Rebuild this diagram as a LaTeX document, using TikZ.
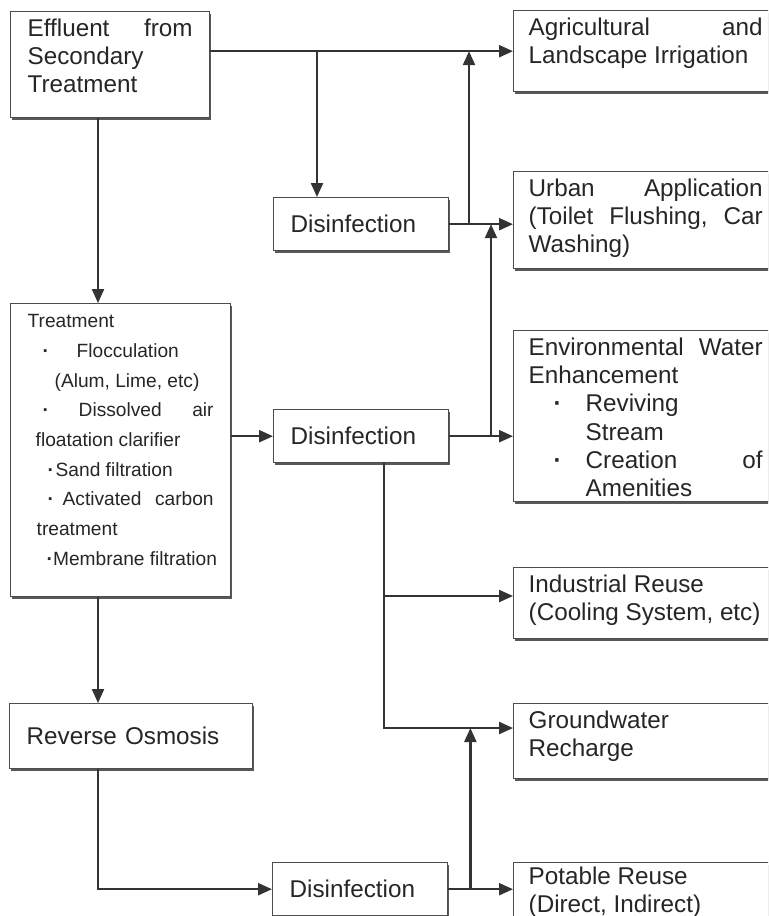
\documentclass[tikz,border=0pt]{standalone}
\usepackage{fontspec}
\setmainfont{Liberation Sans}
\usepackage{tikz}
\usetikzlibrary{positioning, shadows, calc, arrows.meta}
\usepackage{xcolor}

\tikzset{
  box/.style={draw=black!70, line width=0.8pt, fill=white, anchor=north west,
    drop shadow={shadow xshift=0.03cm, shadow yshift=-0.05cm, fill=black!65, opacity=1},
    inner xsep=0.34cm, inner ysep=0.106cm, text=black!85,
    font=\fontsize{13.8}{16}\selectfont},
  rbox/.style={box, inner xsep=0.3cm},
  onebox/.style={box, inner ysep=0pt, align=left},
  disbox/.style={onebox, text width=2.82cm, minimum height=1.06cm},
  line/.style={draw=black!80, line width=1.3pt},
  arr/.style={line, -{Stealth[length=0.28cm, width=0.24cm, inset=0pt]}},
}
\newcommand{\dotb}{{\bfseries ·}}

\begin{document}
\begin{tikzpicture}[x=0.02cm, y=-0.02cm]
          % 畫布
          \fill[white] (0,0) rectangle (768,916);
          \useasboundingbox (0,0) rectangle (768,916);
          \clip (0,0) rectangle (768,916);

          % 子圖形 left (類型: box)
          \begin{scope}[shift={(0.0, 0.0)}]
            % 方框
            \node[box] (src) at (10,11)
              {\parbox[c][1.904cm][t]{3.3cm}{\strut Effluent\hfill from\\Secondary\\Treatment}};
            \node[box, inner ysep=1.8pt, font=\fontsize{10.9}{16.9}\selectfont] (treat) at (10,303)
              {\parbox[c][5.732cm][t]{3.72cm}{\strut Treatment\\
                \hspace*{0.3cm}\makebox[0.68cm][l]{\dotb}Flocculation\\
                \hspace*{0.54cm}(Alum, Lime, etc)\\
                \hspace*{0.3cm}\makebox[0.72cm][l]{\dotb}Dissolved\hfill air\\
                \hspace*{0.16cm}floatation clarifier\\
                \hspace*{0.4cm}\makebox[0.16cm][l]{\dotb}Sand filtration\\
                \hspace*{0.4cm}\makebox[0.3cm][l]{\dotb}Activated\hfill carbon\\
                \hspace*{0.18cm}treatment\\
                \hspace*{0.38cm}\mbox{\dotb Membrane filtration}}};
            \node[onebox, text width=4.18cm, minimum height=1.3cm] (ro) at (9,703) {Reverse Osmosis};
          \end{scope}

          % 子圖形 middle (類型: box)
          \begin{scope}[shift={(0.0, 0.0)}]
            % 方框
            \node[disbox] (dis1) at (273,197) {Disinfection};
            \node[disbox] (dis2) at (273,409) {Disinfection};
            \node[disbox] (dis3) at (272,862) {Disinfection};
          \end{scope}

          % 子圖形 right (類型: box)
          \begin{scope}[shift={(0.0, 0.0)}]
            % 方框
            \node[rbox] (agri) at (513,10)
              {\parbox[c][1.408cm][t]{4.68cm}{\strut Agricultural\hfill and\\Landscape Irrigation}};
            \node[rbox] (urban) at (513,171)
              {\parbox[c][1.728cm][t]{4.68cm}{\strut Urban\hfill Application\\(Toilet\hfill Flushing,\hfill Car\\Washing)}};
            \node[rbox] (env) at (513,330)
              {\parbox[c][3.21cm][t]{4.68cm}{\strut Environmental\hfill Water\\Enhancement\\
                \hspace*{0.5cm}\makebox[0.64cm][l]{\dotb}Reviving\\
                \hspace*{1.14cm}Stream\\
                \hspace*{0.5cm}\makebox[0.64cm][l]{\dotb}Creation\hfill of\\
                \hspace*{1.14cm}Amenities}};
            \node[rbox] (ind) at (513,567)
              {\parbox[c][1.208cm][t]{4.68cm}{\strut Industrial Reuse\\(Cooling System, etc)}};
            \node[rbox] (gw) at (513,703)
              {\parbox[c][1.288cm][t]{4.68cm}{\strut Groundwater\\Recharge}};
            \node[rbox, inner ysep=0.04cm] (pot) at (513,862)
              {\parbox[c][1.4cm][t]{4.68cm}{\strut Potable Reuse\\(Direct, Indirect)}};
          \end{scope}

          % 子圖形 links (類型: arrow)
          \begin{scope}[shift={(0.0, 0.0)}]
            % 接點
            \coordinate (ja) at (317,50.5);
            \coordinate (jb) at (469,223.5);
            \coordinate (jc) at (491,436);
            \coordinate (jd) at (384,596);
            \coordinate (je) at (384,728);
            \path (src.south west) ++(88,0) coordinate (ts);
            \path (treat.south west) ++(88,0) coordinate (tb);
            \path (ro.south west) ++(89,0) coordinate (rb);
            \path (dis2.south west) ++(111,0) coordinate (d2s);
            \path (dis3.east) ++(22,0) coordinate (jf);
            % 箭頭
            \draw[arr] (src.east |- agri.west) -- (agri.west);
            \draw[arr] (ja) -- (ja |- dis1.north);
            \draw[arr] (dis1.east) -- (dis1.east -| urban.west);
            \draw[arr] (jb) -- (jb |- agri.west);
            \draw[arr] (ts) -- (ts |- treat.north);
            \draw[arr] (dis2.west -| treat.east) -- (dis2.west);
            \draw[arr] (dis2.east) -- (dis2.east -| env.west);
            \draw[arr] (jc) -- (jc |- dis1.east);
            \draw[arr] (d2s) -- (je) -- (je -| gw.west);
            \draw[arr] (jd) -- (jd -| ind.west);
            \draw[arr] (tb) -- (tb |- ro.north);
            \draw[arr] (rb) |- (dis3.west);
            \draw[arr] (dis3.east) -- (dis3.east -| pot.west);
            \draw[arr] (jf) -- (jf |- je);
          \end{scope}
        \end{tikzpicture}
\end{document}
